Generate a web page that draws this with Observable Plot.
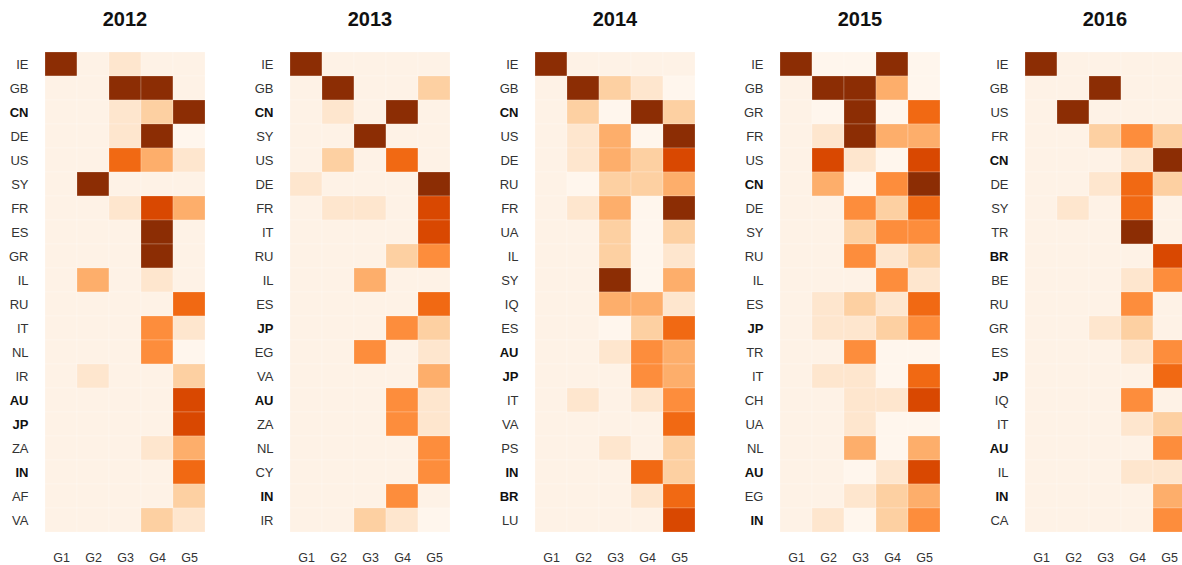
<!DOCTYPE html>
<html><head><meta charset="utf-8">
<script src="https://cdn.jsdelivr.net/npm/d3@7"></script>
<script src="https://cdn.jsdelivr.net/npm/@observablehq/plot@0.6"></script>
<style>
html,body{margin:0;padding:0;background:#fff;overflow:hidden;width:1182px;height:565px}
#row{display:flex;width:1225px}
.panel{width:245px;flex:none}
.title{box-sizing:border-box;height:40px;padding-top:8px;line-height:22px;font:bold 20px "Liberation Sans",Arial,sans-serif;text-align:center;width:162px;margin-left:44px;color:#111}
</style></head><body><div id="row"></div>
<script>
const years = ["2012","2013","2014","2015","2016"];
const groups = ["G1","G2","G3","G4","G5"];
const boldCountries = ["CN","JP","AU","IN","BR"];
// level 0 = empty background, 1..8 = increasing intensity
const palette = ["#fef2e6","#fff6ed","#fee6ce","#fdd0a2","#fdae6b","#fd8d3c","#f16913","#d94801","#8c2d04"];

const countries2012 = ["IE","GB","CN","DE","US","SY","FR","ES","GR","IL","RU","IT","NL","IR","AU","JP","ZA","IN","AF","VA"];
const levels2012 = [
 [8,0,2,0,0],[0,0,8,8,0],[0,0,2,3,8],[0,0,2,8,1],[0,0,6,4,2],
 [0,8,0,0,0],[0,0,2,7,4],[0,0,0,8,0],[0,0,0,8,0],[0,4,0,2,0],
 [0,0,0,0,6],[0,0,0,5,2],[0,0,0,5,1],[0,2,0,0,3],[0,0,0,0,7],
 [0,0,0,0,7],[0,0,0,2,4],[0,0,0,0,6],[0,0,0,0,3],[0,0,0,3,2]
];
const countries2013 = ["IE","GB","CN","SY","US","DE","FR","IT","RU","IL","ES","JP","EG","VA","AU","ZA","NL","CY","IN","IR"];
const levels2013 = [
 [8,0,0,0,0],[0,8,0,0,3],[0,2,0,8,0],[0,0,8,0,0],[0,3,0,6,0],
 [2,0,0,0,8],[0,2,2,0,7],[0,0,0,0,7],[0,0,0,3,5],[0,0,4,0,0],
 [0,0,0,0,6],[0,0,0,5,3],[0,0,5,0,2],[0,0,0,0,4],[0,0,0,5,2],
 [0,0,0,5,2],[0,0,0,0,5],[0,0,0,0,5],[0,0,0,5,0],[0,0,3,2,1]
];
const countries2014 = ["IE","GB","CN","US","DE","RU","FR","UA","IL","SY","IQ","ES","AU","JP","IT","VA","PS","IN","BR","LU"];
const levels2014 = [
 [8,0,0,0,0],[0,8,3,2,1],[0,3,1,8,3],[0,2,4,1,8],[0,2,4,3,7],
 [0,1,3,3,4],[0,2,4,1,8],[0,0,3,1,3],[0,0,3,1,2],[0,0,8,1,4],
 [0,0,4,4,2],[0,0,1,3,6],[0,0,2,5,4],[0,0,0,5,4],[0,2,0,2,5],
 [0,0,0,0,6],[0,0,2,0,3],[0,0,0,6,3],[0,0,0,2,6],[0,0,0,0,7]
];
const countries2015 = ["IE","GB","GR","FR","US","CN","DE","SY","RU","IL","ES","JP","TR","IT","CH","UA","NL","AU","EG","IN"];
const levels2015 = [
 [8,1,1,8,1],[0,8,8,4,1],[0,1,8,1,6],[0,2,8,4,4],[0,7,2,1,7],
 [0,4,1,5,8],[0,0,5,3,6],[0,0,3,5,5],[0,0,5,2,3],[0,0,0,5,2],
 [0,2,3,2,6],[0,2,2,3,5],[0,0,5,1,1],[0,2,2,1,6],[0,0,2,2,7],
 [0,0,2,1,1],[0,0,4,1,4],[0,0,1,2,7],[0,0,2,3,4],[0,2,1,3,5]
];
const countries2016 = ["IE","GB","US","FR","CN","DE","SY","TR","BR","BE","RU","GR","ES","JP","IQ","IT","AU","IL","IN","CA"];
const levels2016 = [
 [8,0,0,0,0],[0,0,8,0,0],[0,8,0,0,0],[0,0,3,5,3],[0,0,0,2,8],
 [0,0,2,6,3],[0,2,0,6,0],[0,0,0,8,0],[0,0,0,0,7],[0,0,0,2,5],
 [0,0,0,5,0],[0,0,2,3,0],[0,0,0,2,5],[0,0,0,0,6],[0,0,0,5,0],
 [0,0,0,2,3],[0,0,0,0,5],[0,0,0,2,2],[0,0,0,0,4],[0,0,0,0,5]
];

const panels = [
 [countries2012, levels2012],[countries2013, levels2013],[countries2014, levels2014],
 [countries2015, levels2015],[countries2016, levels2016]
];
const font = '"Liberation Sans", Arial, sans-serif';
const row = document.getElementById("row");
years.forEach((year, i) => {
  const [countries, levels] = panels[i];
  const data = [];
  countries.forEach((c, r) => groups.forEach((g, k) => data.push({c, g, v: levels[r][k]})));
  const isBold = c => boldCountries.includes(c);
  const chart = Plot.plot({
    width: 245, height: 525,
    marginLeft: 44, marginRight: 39, marginTop: 11, marginBottom: 33,
    style: {fontFamily: font, background: "#fff"},
    x: {domain: groups, padding: 0, axis: null},
    y: {domain: countries, padding: 0, axis: null},
    color: {type: "ordinal", domain: d3.range(9), range: palette},
    marks: [
      Plot.cell(data, {x: "g", y: "c", fill: "v", stroke: "#fff", strokeOpacity: 0.35, strokeWidth: 0.6}),
      Plot.axisX({tickSize: 0, tickPadding: 21, label: null, fontSize: 12.5, fill: "#333"}),
      Plot.text(countries.filter(c => !isBold(c)), {y: d => d, text: d => d, frameAnchor: "left", textAnchor: "end", dx: -16, fontSize: 13, fill: "#333"}),
      Plot.text(countries.filter(isBold), {y: d => d, text: d => d, frameAnchor: "left", textAnchor: "end", dx: -16, fontSize: 13, fontWeight: "bold", fill: "#111"})
    ]
  });
  const panel = document.createElement("div");
  panel.className = "panel";
  const title = document.createElement("div");
  title.className = "title";
  title.textContent = year;
  panel.appendChild(title);
  panel.appendChild(chart);
  row.appendChild(panel);
});
</script></body></html>
